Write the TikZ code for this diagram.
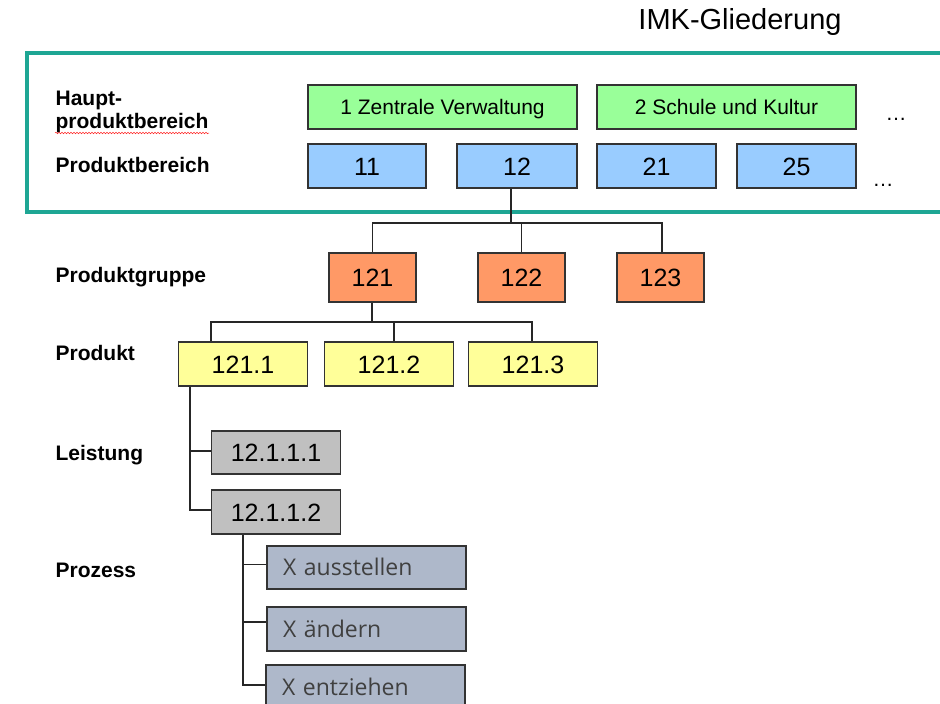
\documentclass[tikz,border=0pt]{standalone}
\usepackage{fontspec}
\setmainfont{Liberation Sans}
\newfontfamily\prozfont{Open Sans}
\usetikzlibrary{positioning, decorations.pathmorphing}
\definecolor{frameteal}{RGB}{30,166,148}
\definecolor{hpbgreen}{RGB}{153,255,153}
\definecolor{pbblue}{RGB}{153,204,255}
\definecolor{pgorange}{RGB}{255,153,102}
\definecolor{prodyellow}{RGB}{255,255,153}
\definecolor{leistgray}{RGB}{192,192,192}
\definecolor{prozblue}{RGB}{174,184,202}
\definecolor{boxline}{RGB}{51,51,51}
\tikzset{
    %boxes of the hierarchy
    every picture/.style={line width=1.2pt},
    level-label/.style={
        anchor=base west,
        inner sep=0pt,
        font=\fontsize{21}{23}\selectfont\bfseries,
        align=left,
    },
    base-box/.style={
        draw=boxline,
        line width=1.5pt,
        inner sep=0pt,
        minimum height=44pt,
        text depth=0pt,
    },
    hpb-box/.style={
        base-box,
        fill=hpbgreen,
        text height=15pt,
        font=\fontsize{21}{23}\selectfont,
    },
    num-box/.style={
        base-box,
        text height=18pt,
        font=\fontsize{25}{27}\selectfont,
    },
    pb-box/.style={
        num-box,
        fill=pbblue,
        minimum width=119pt,
    },
    pg-box/.style={
        num-box,
        fill=pgorange,
        minimum width=87pt,
        minimum height=49pt,
    },
    prod-box/.style={
        num-box,
        fill=prodyellow,
        minimum width=129pt,
    },
    leist-box/.style={
        num-box,
        fill=leistgray,
        minimum width=129pt,
    },
    proz-box/.style={
        base-box,
        fill=prozblue,
        minimum width=199pt,
        text width=167pt,
        text height=16.5pt,
        align=left,
        text=black!75,
        font=\fontsize{23}{25}\selectfont\prozfont,
    },
    tree-line/.style={
        draw=black!85,
        line width=1.2pt,
    },
}

\begin{document}
\begin{tikzpicture}[x=1pt,y=-1pt]
\useasboundingbox (0,0) rectangle (940,704);
\clip (0,0) rectangle (940,704);

% Title
\node (title) at (740,22) {\fontsize{29}{31}\selectfont IMK-Gliederung};

% Frame
\draw[frameteal, line width=3.5pt] (960,53) -- (27,53) -- (27,212) -- (960,212);

% Level labels
\node[level-label] (lhpb) at (55,105) {Haupt-};
\node[level-label] (lhpb2) at (55,128) {produktbereich};
\draw[red!85, line width=0.5pt, decorate, decoration={snake, amplitude=0.8pt, segment length=3pt}]
    ([yshift=-5pt]lhpb2.base west) -- ([yshift=-5pt]lhpb2.base east);
\node[level-label] (lpb) at (55,172) {Produktbereich};
\node[level-label] (lpg) at (55,282) {Produktgruppe};
\node[level-label] (lprod) at (55,360) {Produkt};
\node[level-label] (lleist) at (55,460) {Leistung};
\node[level-label] (lproz) at (55,577) {Prozess};

% Hauptproduktbereiche
\node[hpb-box, minimum width=269pt] (hpb1) at (442.5,107) {1 Zentrale Verwaltung};
\node[hpb-box, minimum width=259pt] (hpb2) at (726.5,107) {2 Schule und Kultur};
\node[anchor=base] (dots1) at (896,120) {\fontsize{21}{23}\selectfont\dots};

% Produktbereiche
\node[pb-box, minimum width=118pt] (pb11) at (367,166) {11};
\node[pb-box, minimum width=120pt] (pb12) at (517,166) {12};
\node[pb-box] (pb21) at (656.5,166) {21};
\node[pb-box] (pb25) at (796.5,166) {25};
\node[anchor=base] (dots2) at (883,186) {\fontsize{21}{23}\selectfont\dots};

% Produktgruppen
\node[pg-box] (pg121) at (372.5,277.5) {121};
\node[pg-box] (pg122) at (521.5,277.5) {122};
\node[pg-box] (pg123) at (660.5,277.5) {123};

% Produkte
\node[prod-box] (p1211) at (243,364) {121.1};
\node[prod-box] (p1212) at (389,364) {121.2};
\node[prod-box] (p1213) at (533,364) {121.3};

% Leistungen
\node[leist-box, minimum height=43pt] (l1) at (276,452.5) {12.1.1.1};
\node[leist-box] (l2) at (276,512) {12.1.1.2};

% Prozesse
\node[proz-box, minimum height=43pt] (x1) at (366.5,567.5) {X ausstellen};
\node[proz-box] (x2) at (366.5,629) {X ändern};
\node[proz-box] (x3) at (365.5,687) {X entziehen};

% Connectors
\coordinate (bus1) at (511,223);
\coordinate (bus2) at (372,322);
\coordinate (spine1) at (190,0);
\coordinate (spine2) at (243,0);

\draw[tree-line] (pb12.south -| bus1) -- (bus1);
\draw[tree-line] (pg121.north) |- (bus1) -| ([xshift=1.5]pg123.north);
\draw[tree-line] (pg122.north) -- (pg122.north |- bus1);

\draw[tree-line] (pg121.south -| bus2) -- (bus2);
\draw[tree-line] (p1211.north -| 211,0) |- (bus2) -| ([xshift=-1]p1213.north);
\draw[tree-line] ([xshift=5]p1212.north) -- ([xshift=5]p1212.north |- bus2);

\draw[tree-line] (p1211.south -| spine1) |- ([yshift=2]l2.west);
\draw[tree-line] ([yshift=1.5]l1.west) -- ([yshift=1.5]l1.west -| spine1);

\draw[tree-line] (l2.south -| spine2) |- ([yshift=2]x3.west);
\draw[tree-line] ([yshift=3]x1.west) -- ([yshift=3]x1.west -| spine2);
\draw[tree-line] ([yshift=7]x2.west) -- ([yshift=7]x2.west -| spine2);
\end{tikzpicture}
\end{document}
